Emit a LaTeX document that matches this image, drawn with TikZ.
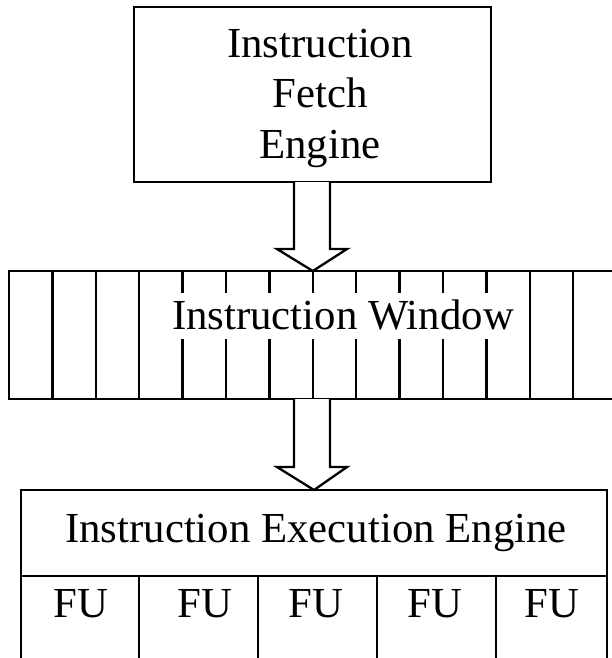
\documentclass[tikz,border=0pt]{standalone}
\usepackage{fontspec}
\setmainfont{Liberation Serif}
\usetikzlibrary{calc}
\tikzset{
  boxnode/.style={draw, line width=2.3pt, inner sep=0pt, outer sep=0pt, fill=white},
  lbl/.style={inner sep=0pt, outer sep=0pt, anchor=base, font=\fontsize{42.8}{50}\selectfont},
  hollowarrow/.style={draw, line width=2.3pt, fill=white, line join=miter},
  slotline/.style={line width=2.3pt}
}
\begin{document}
\begin{tikzpicture}[x=1pt,y=-1pt]
\clip (0,0) rectangle (612,658);
\fill[white] (0,0) rectangle (612,658);

% Instruction fetch engine
\node[boxnode, minimum width=357pt, minimum height=175pt] (fetch) at (312.5,94.5) {};
\node[lbl] (f1) at (320,58) {Instruction};
\node[lbl] (f2) at (320,108) {Fetch};
\node[lbl] (f3) at (320,158) {Engine};

% Instruction window
\node[boxnode, minimum width=607.6pt, minimum height=128pt] (window) at (312.8,335) {};
\foreach \k in {1,2,3,12,13}{
  \draw[slotline] ($(window.north west)+(43.4*\k,0)$) -- ($(window.south west)+(43.4*\k,0)$);
}
\foreach \k in {4,...,11}{
  \draw[slotline] ($(window.north west)+(43.4*\k,0)$) -- ++(0,22);
  \draw[slotline] ($(window.south west)+(43.4*\k,0)$) -- ++(0,-60);
}
\node[lbl] (wtext) at (343,329) {Instruction Window};

% Instruction execution engine
\node[boxnode, minimum width=586pt, minimum height=86pt] (exec) at (314,533) {};
\node[lbl] (etext) at (316,542) {Instruction Execution Engine};
\node[boxnode, minimum width=118pt, minimum height=94pt] (fu1) at (80,623) {};
\node[boxnode, minimum width=119pt, minimum height=94pt] (fu2) at (198.5,623) {};
\node[boxnode, minimum width=119pt, minimum height=94pt] (fu3) at (317.5,623) {};
\node[boxnode, minimum width=119pt, minimum height=94pt] (fu4) at (436.5,623) {};
\node[boxnode, minimum width=111pt, minimum height=94pt] (fu5) at (551.5,623) {};
\node[lbl] (fu1t) at (81,617) {FU};
\node[lbl] (fu2t) at (205,617) {FU};
\node[lbl] (fu3t) at (316,617) {FU};
\node[lbl] (fu4t) at (435,617) {FU};
\node[lbl] (fu5t) at (552,617) {FU};

% Hollow arrows
\draw[hollowarrow] ($(fetch.south)+(-18.5,0)$) -- ++(0,67) -- ++(-17,0)
  -- (window.north) -- ($(fetch.south)+(34.5,67)$) -- ++(-17,0) -- ($(fetch.south)+(17.5,0)$);
\draw[hollowarrow] ($(window.south)+(-18.8,0)$) -- ++(0,68) -- ++(-17,0)
  -- (exec.north) -- ($(window.south)+(34.2,68)$) -- ++(-17,0) -- ($(window.south)+(17.2,0)$);
\end{tikzpicture}
\end{document}
